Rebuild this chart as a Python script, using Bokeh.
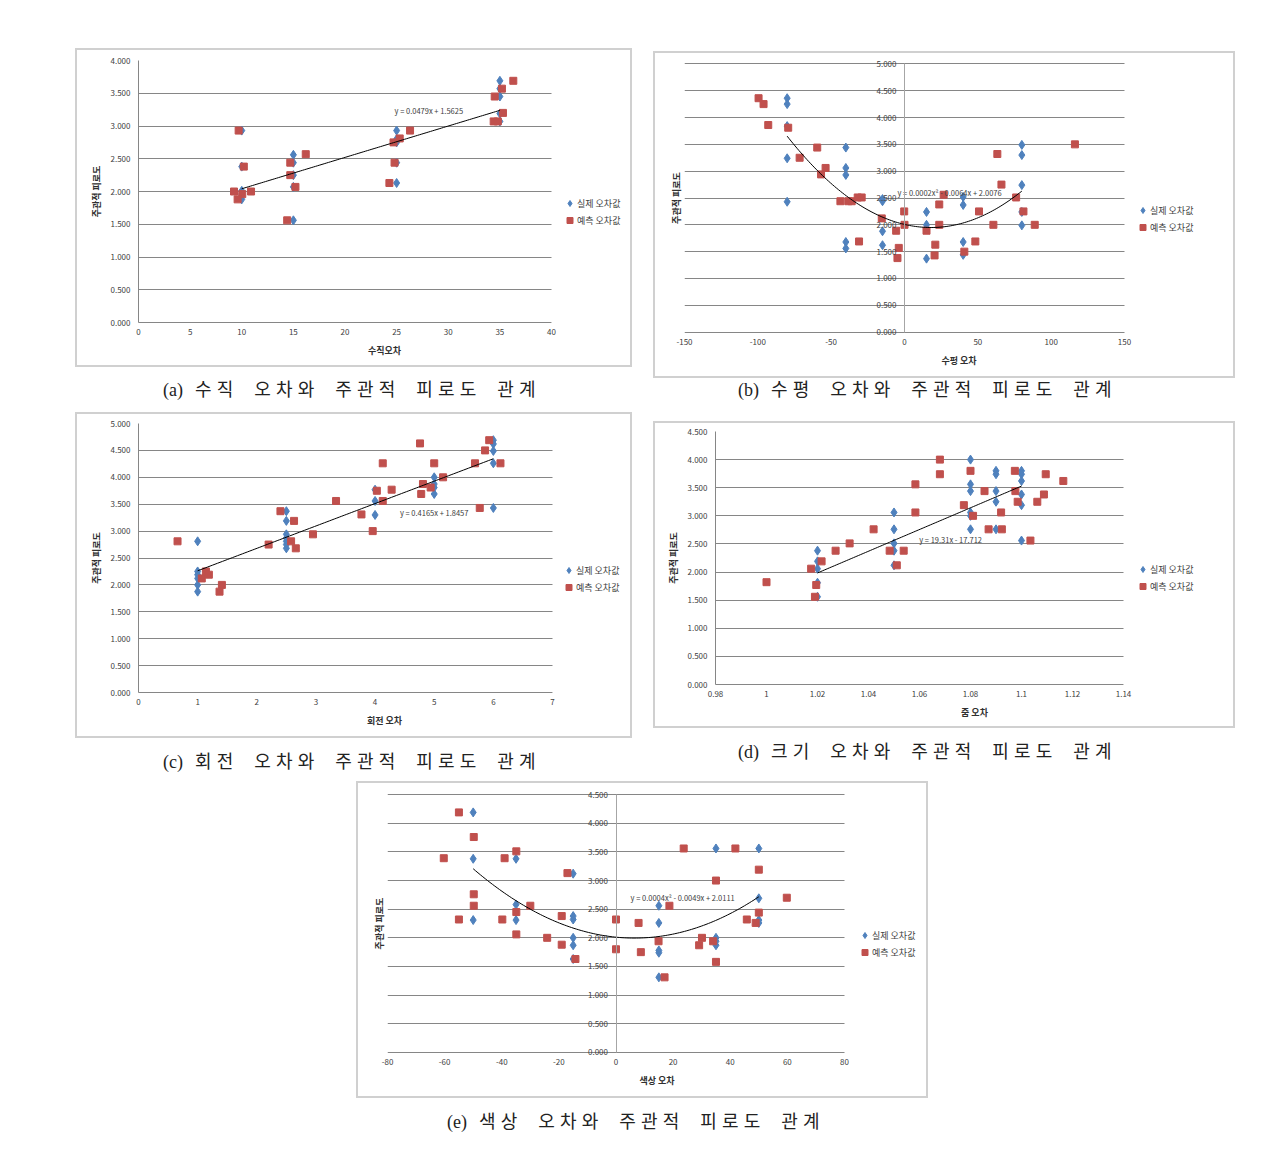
import numpy as np
from bokeh.plotting import figure
from bokeh.models import (Range1d, FixedTicker, NumeralTickFormatter, LinearAxis, Div, Spacer,
                          Legend, LegendItem, BoxAnnotation)
from bokeh.layouts import row, column
from bokeh.core.properties import value
from bokeh.embed import file_html
from bokeh.resources import INLINE

# ---------------- data ----------------
SERIES_NAMES = ["실제 오차값", "예측 오차값"]
Y_LABEL = "주관적 피로도"

# (a) vertical error
A_X_LABEL = "수직오차"
A_CAPTION = ["(a)", "수직 오차와 주관적 피로도 관계"]
A_EQ = "y = 0.0479x + 1.5625"
A_TREND = [0.0479, 1.5625]
A_XTICKS = [0, 5, 10, 15, 20, 25, 30, 35, 40]
A_XTICK_LABELS = ["0", "5", "10", "15", "20", "25", "30", "35", "40"]
A_YTICKS = [0, 0.5, 1.0, 1.5, 2.0, 2.5, 3.0, 3.5, 4.0]
A_ACT_X = [10, 10, 10, 10, 10, 15, 15, 15, 15, 15, 25, 25, 25, 25, 25, 35, 35, 35, 35, 35]
A_ACT_Y = [2.93, 2.38, 2.01, 1.96, 1.88, 2.56, 2.44, 2.25, 2.07, 1.56,
           2.93, 2.80, 2.75, 2.44, 2.13, 3.69, 3.57, 3.45, 3.19, 3.07]
A_PRED_X = [9.7, 10.2, 9.25, 10.9, 10.05, 9.6, 16.2, 14.7, 14.7, 15.2, 14.4,
            26.3, 25.3, 24.7, 24.8, 24.3, 36.3, 35.2, 34.5, 35.3, 34.4, 34.8]
A_PRED_Y = [2.93, 2.38, 2.00, 2.00, 1.96, 1.88, 2.57, 2.44, 2.25, 2.07, 1.56,
            2.93, 2.81, 2.75, 2.44, 2.13, 3.69, 3.57, 3.45, 3.20, 3.07, 3.07]

# (b) horizontal error
B_X_LABEL = "수평 오차"
B_CAPTION = ["(b)", "수평 오차와 주관적 피로도 관계"]
B_EQ = "y = 0.0002x² - 0.0064x + 2.0076"
B_TREND = [0.000177, -0.0064, 2.0076]
B_XTICKS = [-150, -100, -50, 0, 50, 100, 150]
B_XTICK_LABELS = ["-150", "-100", "-50", "0", "50", "100", "150"]
B_YTICKS = [0, 0.5, 1.0, 1.5, 2.0, 2.5, 3.0, 3.5, 4.0, 4.5, 5.0]
B_ACT_X = [-80, -80, -80, -80, -80, -40, -40, -40, -40, -40, -15, -15, -15, -15,
           15, 15, 15, 40, 40, 40, 40, 80, 80, 80, 80, 80]
B_ACT_Y = [4.36, 4.25, 3.84, 3.24, 2.43, 3.44, 3.06, 2.93, 1.68, 1.56, 2.48, 2.44, 1.88, 1.62,
           2.24, 2.00, 1.37, 2.52, 2.37, 1.68, 1.44, 3.49, 3.30, 2.74, 2.24, 1.99]
B_PRED_X = [-99.5, -96.1, -92.9, -79.3, -71.5, -59.5, -53.8, -56.9, -43.7, -38.3, -36.0,
            -31.9, -29.2, -31.0, -15.5, -5.7, -3.9, -4.8, -0.2, 0.0, 15.0, 21.0, 20.5,
            23.7, 23.7, 26.7, 40.8, 48.3, 50.8, 60.6, 63.3, 66.1, 76.1, 81.1, 88.8, 116.2]
B_PRED_Y = [4.36, 4.25, 3.86, 3.81, 3.25, 3.44, 3.06, 2.94, 2.44, 2.44, 2.44,
            2.51, 2.51, 1.69, 2.12, 1.89, 1.57, 1.38, 2.25, 2.00, 1.89, 1.63, 1.43,
            2.38, 2.00, 2.56, 1.50, 1.69, 2.25, 2.00, 3.32, 2.75, 2.51, 2.25, 2.00, 3.50]

# (c) rotation error
C_X_LABEL = "회전 오차"
C_CAPTION = ["(c)", "회전 오차와 주관적 피로도 관계"]
C_EQ = "y = 0.4165x + 1.8457"
C_TREND = [0.4165, 1.8457]
C_XTICKS = [0, 1, 2, 3, 4, 5, 6, 7]
C_XTICK_LABELS = ["0", "1", "2", "3", "4", "5", "6", "7"]
C_YTICKS = [0, 0.5, 1.0, 1.5, 2.0, 2.5, 3.0, 3.5, 4.0, 4.5, 5.0]
C_ACT_X = [1, 1, 1, 1, 1, 1, 2.5, 2.5, 2.5, 2.5, 2.5, 2.5, 2.5, 4, 4, 4, 5, 5, 5, 5, 6, 6, 6, 6, 6]
C_ACT_Y = [2.81, 2.25, 2.19, 2.12, 2.00, 1.875, 3.37, 3.19, 2.94, 2.87, 2.81, 2.75, 2.68,
           3.77, 3.56, 3.30, 4.00, 3.875, 3.81, 3.69, 4.69, 4.62, 4.49, 4.26, 3.43]
C_PRED_X = [0.66, 1.07, 1.14, 1.19, 1.37, 1.41, 2.2, 2.4, 2.58, 2.63, 2.66, 2.95, 3.34,
            3.77, 3.96, 4.03, 4.13, 4.13, 4.28, 4.76, 4.78, 4.81, 4.94, 5.0, 5.15,
            5.69, 5.77, 5.86, 5.93, 6.12]
C_PRED_Y = [2.81, 2.12, 2.25, 2.19, 1.875, 2.00, 2.75, 3.37, 2.81, 3.19, 2.68, 2.94, 3.56,
            3.31, 3.00, 3.75, 4.26, 3.56, 3.77, 4.63, 3.69, 3.875, 3.81, 4.26, 4.00,
            4.26, 3.43, 4.50, 4.69, 4.26]

# (d) size (zoom) error
D_X_LABEL = "줌 오차"
D_CAPTION = ["(d)", "크기 오차와 주관적 피로도 관계"]
D_EQ = "y = 19.31x - 17.712"
D_TREND = [19.31, -17.712]
D_XTICKS = [0.98, 1.0, 1.02, 1.04, 1.06, 1.08, 1.1, 1.12, 1.14]
D_XTICK_LABELS = ["0.98", "1", "1.02", "1.04", "1.06", "1.08", "1.1", "1.12", "1.14"]
D_YTICKS = [0, 0.5, 1.0, 1.5, 2.0, 2.5, 3.0, 3.5, 4.0, 4.5]
D_ACT_X = [1.02, 1.02, 1.02, 1.02, 1.02, 1.05, 1.05, 1.05, 1.05, 1.05,
           1.08, 1.08, 1.08, 1.08, 1.08, 1.08, 1.09, 1.09, 1.09, 1.09, 1.09,
           1.10, 1.10, 1.10, 1.10, 1.10, 1.10]
D_ACT_Y = [2.38, 2.19, 2.06, 1.81, 1.56, 3.06, 2.76, 2.51, 2.38, 2.12,
           4.00, 3.56, 3.44, 3.06, 3.00, 2.76, 3.80, 3.74, 3.44, 3.25, 2.76,
           3.80, 3.74, 3.62, 3.38, 3.19, 2.56]
D_PRED_X = [1.0, 1.0175, 1.019, 1.0195, 1.0216, 1.0271, 1.0326, 1.042, 1.0483, 1.0511,
            1.0538, 1.0584, 1.0584, 1.068, 1.068, 1.0774, 1.08, 1.081, 1.0855, 1.0871,
            1.092, 1.0923, 1.0974, 1.0976, 1.0985, 1.1035, 1.1062, 1.1088, 1.1095, 1.1164]
D_PRED_Y = [1.82, 2.06, 1.56, 1.77, 2.19, 2.38, 2.51, 2.76, 2.38, 2.12,
            2.38, 3.56, 3.06, 4.00, 3.74, 3.19, 3.80, 3.00, 3.44, 2.76,
            3.06, 2.76, 3.80, 3.44, 3.25, 2.56, 3.25, 3.38, 3.74, 3.62]

# (e) colour error
E_X_LABEL = "색상 오차"
E_CAPTION = ["(e)", "색상 오차와 주관적 피로도 관계"]
E_EQ = "y = 0.0004x² - 0.0049x + 2.0111"
E_TREND = [0.00038, -0.0049, 2.0111]
E_XTICKS = [-80, -60, -40, -20, 0, 20, 40, 60, 80]
E_XTICK_LABELS = ["-80", "-60", "-40", "-20", "0", "20", "40", "60", "80"]
E_YTICKS = [0, 0.5, 1.0, 1.5, 2.0, 2.5, 3.0, 3.5, 4.0, 4.5]
E_ACT_X = [-50, -50, -50, -35, -35, -35, -15, -15, -15, -15, -15, -15,
           15, 15, 15, 15, 15, 35, 35, 35, 35, 50, 50, 50, 50]
E_ACT_Y = [4.19, 3.38, 2.31, 3.38, 2.58, 2.31, 3.12, 2.38, 2.32, 2.00, 1.87, 1.63,
           2.56, 2.26, 1.78, 1.74, 1.31, 3.56, 2.00, 1.94, 1.87, 3.56, 2.69, 2.31, 2.26]
E_PRED_X = [-55, -49.8, -60.3, -49.8, -49.8, -55, -39.8, -39, -34.9, -34.9, -34.9, -30,
            -24.1, -19, -19, -17, -14.2, 0, 0, 7.9, 8.7, 14.9, 17, 18.7, 23.7, 29.1,
            30.1, 34, 35, 35, 41.8, 45.8, 48.9, 50, 50, 59.8]
E_PRED_Y = [4.19, 3.76, 3.39, 2.76, 2.56, 2.32, 2.32, 3.39, 3.51, 2.45, 2.06, 2.56,
            2.00, 2.38, 1.88, 3.13, 1.63, 2.32, 1.80, 2.26, 1.75, 1.94, 1.31, 2.56, 3.56, 1.87,
            2.00, 1.94, 3.00, 1.58, 3.56, 2.32, 2.26, 3.19, 2.44, 2.70]

# ---------------- styling ----------------
FONT = "Noto Sans CJK KR"
BLUE = "#4F81BD"
RED = "#C0504D"
GRID = "#868686"
TXT = "#404040"
RIGHT_EDGE = 4   # px between frame and the chart box on the right


def make_chart(w, h, mb, xr, xticks, xlabels, yr, yticks, xlabel,
               ax, ay, px, py, trend, eq_text, eq_pos, legend_loc,
               y_at_zero=False, ypad=0.0):
    # the frame is widened to the right so that the legend sits inside it;
    # the data area keeps the same pixel scale as an Excel plot area of width w-mb[0]-mb[1]
    data_px = w - mb[0] - mb[1]
    frame_px = w - mb[0] - RIGHT_EDGE
    x_end = xr[0] + (xr[1] - xr[0]) * frame_px / data_px
    p = figure(width=w, height=h, output_backend="svg", toolbar_location=None,
               x_range=Range1d(xr[0], x_end), y_range=Range1d(yr[0] - ypad, yr[1] + ypad),
               min_border_left=mb[0], min_border_right=RIGHT_EDGE,
               min_border_top=mb[2], min_border_bottom=mb[3],
               background_fill_color="white", border_fill_color="white",
               outline_line_color=None,
               styles={"border": "2px solid #d0d0d0", "box-sizing": "border-box"})
    xa = p.xaxis[0]
    xa.ticker = FixedTicker(ticks=xticks)
    xa.major_label_overrides = dict(zip(xticks, xlabels))
    xa.bounds = (xr[0], xr[1])
    xa.axis_label = xlabel
    xa.major_tick_out = 0
    xa.major_tick_in = 0
    xa.minor_tick_out = 0
    xa.minor_tick_in = 0
    xa.major_label_text_font = FONT
    xa.major_label_text_font_size = "8px"
    xa.major_label_text_color = TXT
    xa.axis_label_text_font = FONT
    xa.axis_label_text_font_size = "9px"
    xa.axis_label_text_font_style = "bold"
    xa.axis_label_text_color = "#303030"
    xa.axis_label_standoff = 6
    if ypad > 0:
        xa.axis_line_color = None
        xa.major_label_standoff = 1
    else:
        xa.axis_line_color = GRID
        xa.major_label_standoff = 6

    ya = p.yaxis[0]
    ya.ticker = FixedTicker(ticks=yticks)
    ya.formatter = NumeralTickFormatter(format="0.000")
    ya.major_tick_out = 0
    ya.major_tick_in = 0
    ya.minor_tick_out = 0
    ya.minor_tick_in = 0
    ya.major_label_standoff = 8
    ya.major_label_text_font = FONT
    ya.major_label_text_font_size = "8px"
    ya.major_label_text_color = TXT

    label_axis_props = dict(axis_label=Y_LABEL, axis_label_text_font=FONT,
                            axis_label_text_font_size="9px",
                            axis_label_text_font_style="bold",
                            axis_label_text_color="#303030")
    if y_at_zero:
        ya.fixed_location = 0
        ya.bounds = (yr[0], yr[1])
        ya.axis_line_color = "#a6a6a6"
        lab = LinearAxis(ticker=FixedTicker(ticks=[]), axis_line_color=None,
                         major_tick_out=0, major_tick_in=0, minor_tick_out=0,
                         minor_tick_in=0, major_label_standoff=0,
                         axis_label_standoff=2, **label_axis_props)
        p.add_layout(lab, "left")
    else:
        ya.axis_line_color = GRID
        ya.axis_label_standoff = 5
        for k, v in label_axis_props.items():
            setattr(ya, k, v)

    p.xgrid.visible = False
    p.ygrid.ticker = FixedTicker(ticks=yticks)
    p.ygrid.grid_line_color = GRID
    p.ygrid.grid_line_width = 1

    # white strip to the right of the plot area (hides grid lines under the legend)
    p.add_layout(BoxAnnotation(left=xr[1], fill_color="white", fill_alpha=1.0,
                               line_color=None))

    r1 = p.scatter(ax, ay, marker="diamond", size=9, color=BLUE)
    r2 = p.scatter(px, py, marker="square", size=7, color=RED)

    tx = np.linspace(min(ax), max(ax), 120)
    ty = np.polyval(trend, tx)
    p.line(tx, ty, color="black", line_width=1)

    p.text(x=[eq_pos[0]], y=[eq_pos[1]], text=[eq_text],
           text_font=value(FONT), text_font_size=value("7.5px"),
           text_color=TXT, text_baseline="middle", text_align="left")

    lg = Legend(items=[LegendItem(label=SERIES_NAMES[0], renderers=[r1]),
                       LegendItem(label=SERIES_NAMES[1], renderers=[r2])],
                location=legend_loc, border_line_color=None, background_fill_alpha=0,
                label_text_font=FONT, label_text_font_size="9px", label_text_color=TXT,
                glyph_width=15, glyph_height=16, label_height=12, label_standoff=0,
                spacing=1, padding=2, margin=0)
    p.add_layout(lg)
    return p


fig_a = make_chart(557, 319, (61, 83, 10, 47), (0, 40), A_XTICKS, A_XTICK_LABELS,
                   (0, 4), A_YTICKS, A_X_LABEL, A_ACT_X, A_ACT_Y, A_PRED_X, A_PRED_Y,
                   A_TREND, A_EQ, (24.8, 3.23), (424, 94))
fig_b = make_chart(582, 327, (29, 113, 5, 43), (-150, 150), B_XTICKS, B_XTICK_LABELS,
                   (0, 5), B_YTICKS, B_X_LABEL, B_ACT_X, B_ACT_Y, B_PRED_X, B_PRED_Y,
                   B_TREND, B_EQ, (-4.8, 2.60), (451, 102), y_at_zero=True, ypad=0.1)
fig_c = make_chart(557, 326, (61, 82, 9, 48), (0, 7), C_XTICKS, C_XTICK_LABELS,
                   (0, 5), C_YTICKS, C_X_LABEL, C_ACT_X, C_ACT_Y, C_PRED_X, C_PRED_Y,
                   C_TREND, C_EQ, (4.42, 3.34), (423, 97))
fig_d = make_chart(582, 307, (60, 114, 8, 46), (0.98, 1.14), D_XTICKS, D_XTICK_LABELS,
                   (0, 4.5), D_YTICKS, D_X_LABEL, D_ACT_X, D_ACT_Y, D_PRED_X, D_PRED_Y,
                   D_TREND, D_EQ, (1.0599, 2.586), (420, 90))
fig_e = make_chart(572, 317, (29, 86, 6, 43), (-80, 80), E_XTICKS, E_XTICK_LABELS,
                   (0, 4.5), E_YTICKS, E_X_LABEL, E_ACT_X, E_ACT_Y, E_PRED_X, E_PRED_Y,
                   E_TREND, E_EQ, (5.1, 2.71), (470, 97), y_at_zero=True, ypad=0.09)

CAP_STYLE = {"font-family": "'Liberation Serif', 'Noto Sans CJK KR'", "font-size": "18px",
             "letter-spacing": "5.2px", "word-spacing": "6px", "line-height": "24px",
             "color": "#222222", "white-space": "nowrap"}


def caption(parts, indent, width):
    html = ('<span style="letter-spacing:0;margin-right:12px">%s</span>%s'
            % (parts[0], parts[1]))
    return row(Spacer(width=indent, height=24),
               Div(text=html, width=width, height=24, margin=0, styles=CAP_STYLE))


col_a = column(Spacer(width=557, height=48), fig_a, Spacer(width=557, height=11),
               caption(A_CAPTION, 88, 460))
col_b = column(Spacer(width=582, height=51), fig_b, caption(B_CAPTION, 85, 460))
row1 = row(Spacer(width=75, height=10), col_a, Spacer(width=21, height=10), col_b)

col_c = column(Spacer(width=557, height=10), fig_c, Spacer(width=557, height=12),
               caption(C_CAPTION, 88, 460))
col_d = column(Spacer(width=582, height=19), fig_d, Spacer(width=582, height=12),
               caption(D_CAPTION, 85, 460))
row2 = row(Spacer(width=75, height=10), col_c, Spacer(width=21, height=10), col_d)

col_e = column(Spacer(width=572, height=7), fig_e, Spacer(width=572, height=12),
               caption(E_CAPTION, 91, 460))
row3 = row(Spacer(width=356, height=10), col_e)

layout = column(row1, row2, row3)

open("out.html", "w").write(file_html(layout, INLINE))
